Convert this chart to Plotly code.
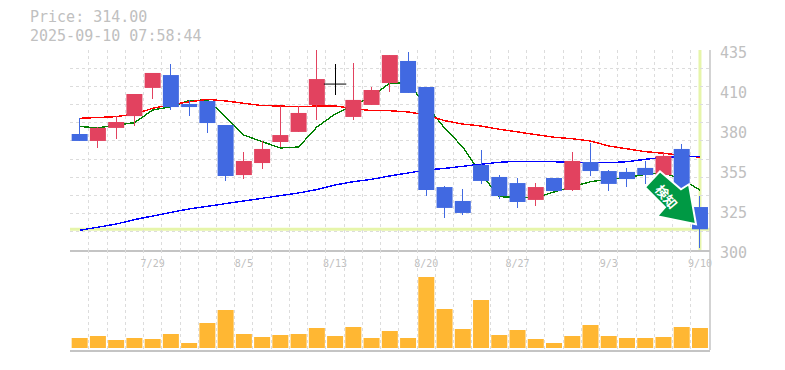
import plotly.graph_objects as go

dates = ["7/23","7/24","7/25","7/28","7/29","7/30","7/31","8/1","8/4","8/5","8/6","8/7","8/8","8/12","8/13","8/14","8/15","8/18","8/19","8/20","8/21","8/22","8/25","8/26","8/27","8/28","8/29","9/1","9/2","9/3","9/4","9/5","9/8","9/9","9/10"]
opens = [378.3,373.6,382.4,390.4,409.4,418.1,398.6,400.6,384.4,350.6,358.7,372.9,379.7,397.9,412.0,389.8,397.9,412.7,427.6,410.0,342.5,333.1,357.4,349.3,345.2,333.8,348.6,340.5,359.4,353.3,352.7,355.4,350.6,368.2,329.0]
highs = [389.1,383.0,390.4,405.3,419.5,425.6,401.3,400.6,384.4,366.2,373.6,397.2,397.2,435.0,425.6,426.2,410.0,431.6,433.7,410.0,343.2,341.2,367.5,350.6,348.6,345.2,348.6,366.2,372.2,354.0,355.4,360.1,366.2,371.5,336.4]
lows = [373.6,368.9,374.9,383.7,401.9,394.5,390.4,379.0,346.6,347.9,354.7,369.5,379.7,387.8,404.6,387.8,397.9,406.7,406.0,336.4,321.6,323.6,344.6,334.4,328.4,329.7,339.8,339.8,350.0,339.8,342.5,344.6,350.6,340.5,301.4]
closes = [373.6,382.4,386.4,405.3,419.5,396.5,396.5,385.7,350.0,360.1,368.2,377.6,392.5,415.4,412.0,401.3,408.0,431.6,406.0,340.5,328.4,325.0,346.6,336.4,332.4,342.5,339.8,360.1,353.3,344.6,347.9,350.6,363.5,340.5,314.0]
ma_short = [383.4,382.4,384.4,385.9,394.5,396.7,400.8,401.3,389.8,377.6,373.1,368.9,369.5,383.0,391.8,397.9,403.3,412.7,412.7,397.9,382.4,369.5,351.3,336.0,335.3,335.1,339.2,342.5,346.1,347.9,348.8,351.1,352.2,347.7,340.5]
ma_mid = [388.9,389.6,390.0,391.8,395.6,398.2,400.1,401.7,400.6,399.0,397.5,397.2,396.7,397.2,397.2,395.6,394.0,394.0,393.2,391.1,387.3,385.0,383.7,381.5,379.7,378.3,376.1,375.1,373.6,370.2,368.2,366.4,365.3,364.1,362.6]
ma_long = [313.3,315.5,317.5,320.5,323.2,325.4,327.7,329.5,331.0,332.9,334.9,336.2,338.5,340.8,343.9,346.1,347.7,350.0,352.2,354.0,355.1,356.7,357.9,359.2,359.9,359.9,359.4,358.9,358.9,358.9,359.6,361.2,362.6,363.0,363.0]
volumes = [10,12,8,10,9,14,5,25,38,14,11,13,14,20,12,21,10,17,10,71,39,19,48,13,18,9,5,12,23,12,10,10,11,21,20]
price_ticks = [435,408,381,354,327,300]
price_labels = ["435","410","380","355","325","300"]
label_idx = [4,9,14,19,24,29,34]
last_price = 314.0

GRID = "#dcdcdc"; TXT = "#c0c0c0"; AXIS = "#c4c4c4"; HL = "#e6f5aa"
RED = "#e2425f"; BLUE = "#4169e1"; ORANGE = "#ffb733"; GREEN = "#009944"
MONO = "'DejaVu Sans Mono', monospace"
DASH = "3px,3px"
n = len(dates); xs = list(range(n))
XR = [-0.53, 34.55]
YR = [300, 435]
step = 135 / 11
BODY = 0.877

up = [i for i in xs if closes[i] > opens[i]]
down = [i for i in xs if closes[i] < opens[i]]
flat = [i for i in xs if closes[i] == opens[i]]

fig = go.Figure()
# moving averages sit under the candles
for vals, col in [(ma_short, "#008000"), (ma_mid, "#ff0000"), (ma_long, "#0000ff")]:
    fig.add_trace(go.Scatter(x=xs, y=vals, mode="lines", line=dict(color=col, width=1.4),
                             xaxis="x", yaxis="y", showlegend=False, hoverinfo="skip"))
for ids, col in [(up, RED), (down, BLUE)]:
    fig.add_trace(go.Bar(x=ids, y=[abs(closes[i] - opens[i]) for i in ids], base=[min(closes[i], opens[i]) for i in ids],
                         width=BODY, marker=dict(color=col, line_width=0), xaxis="x3", yaxis="y3", showlegend=False))
for ids, col in [(up, RED), (down, BLUE), (flat, "black")]:
    wx, wy = [], []
    for i in ids:
        wx += [i, i, None]; wy += [lows[i], highs[i], None]
    fig.add_trace(go.Scatter(x=wx, y=wy, mode="lines", line=dict(color=col, width=1),
                             xaxis="x3", yaxis="y3", showlegend=False, hoverinfo="skip"))
fig.add_trace(go.Scatter(x=flat, y=[closes[i] for i in flat], mode="markers",
                         marker=dict(symbol="line-ew", size=16, line=dict(color="black", width=1)),
                         xaxis="x3", yaxis="y3", showlegend=False))
fig.add_trace(go.Bar(x=xs, y=volumes, marker=dict(color=ORANGE, line_width=0), width=BODY,
                     xaxis="x2", yaxis="y2", showlegend=False))

minor = dict(tickmode="linear", tick0=-0.5, dtick=1, showgrid=True, gridcolor=GRID, griddash=DASH, gridwidth=1, ticks="")
fig.update_layout(
    width=785, height=370, autosize=False, paper_bgcolor="white", plot_bgcolor="white",
    margin=dict(l=70, r=75, t=50, b=20), barmode="overlay", showlegend=False,
    font=dict(family=MONO, color=TXT),
    xaxis=dict(domain=[0, 1], range=XR, anchor="y", tickmode="array",
               tickvals=label_idx, ticktext=[dates[i] for i in label_idx], tickfont=dict(size=10, color=TXT, family=MONO),
               ticks="outside", ticklen=3, tickcolor="rgba(0,0,0,0)", showgrid=False, zeroline=False, showline=True,
               linecolor=AXIS, linewidth=2, minor=minor),
    yaxis=dict(domain=[1/3, 1], range=YR, anchor="x", side="right", tickmode="array",
               tickvals=[YR[1] - step * k for k in range(12)], showticklabels=False, ticks="",
               showgrid=True, gridcolor=GRID, griddash=DASH, zeroline=False, showline=False),
    xaxis3=dict(domain=[0, 1], range=XR, overlaying="x", anchor="y3", visible=False),
    yaxis3=dict(domain=[1/3, 1], range=YR, overlaying="y", anchor="x3", visible=False),
    xaxis2=dict(domain=[0, 1], range=XR, anchor="y2", showticklabels=False, ticks="", tickmode="array", tickvals=[],
                showgrid=False, zeroline=False, showline=True, linecolor=AXIS, linewidth=2, minor=minor),
    yaxis2=dict(domain=[0, 1/3], range=[-2, 98], anchor="x2", side="right", showticklabels=False, ticks="",
                showgrid=False, zeroline=False, showline=False),
    shapes=[
        dict(type="line", xref="x", yref="paper", x0=34, x1=34, y0=1/3, y1=1, line=dict(color=HL, width=3), layer="below"),
        dict(type="line", xref="paper", yref="y", x0=0, x1=1, y0=last_price, y1=last_price, line=dict(color=HL, width=3), layer="below"),
        dict(type="line", xref="paper", yref="paper", x0=1, x1=1, y0=0, y1=1, line=dict(color=AXIS, width=1.5), layer="above"),
        dict(type="path", xsizemode="pixel", ysizemode="pixel", xref="x", yref="y", xanchor=34, yanchor=last_price,
             path="M -4 5 L -43 13 L -35 22 L -55 42 L -40 58 L -19 40 L -11 45 Z",
             fillcolor=GREEN, line=dict(color="white", width=2), layer="above"),
    ],
    annotations=[
        dict(text="Price: 314.00", xref="paper", yref="paper", x=-40/640, y=(300+32.5)/300, xanchor="left", yanchor="middle",
             xshift=-2, showarrow=False, font=dict(size=15, color=TXT, family=MONO)),
        dict(text="2025-09-10 07:58:44", xref="paper", yref="paper", x=-40/640, y=(300+14.5)/300, xanchor="left", yanchor="middle",
             xshift=-2, showarrow=False, font=dict(size=15, color=TXT, family=MONO)),
        dict(text="<b>検知</b>", xref="x", yref="y", x=34, y=last_price, xshift=-33, yshift=33, showarrow=False,
             textangle=50, font=dict(size=13, color="white", family="'Noto Sans CJK JP'")),
    ] + [dict(text=lab, xref="paper", yref="y", x=1, y=v, xanchor="left", yanchor="middle", xshift=8, yshift=-3,
              showarrow=False, font=dict(size=15, color=TXT, family=MONO)) for v, lab in zip(price_ticks, price_labels)],
)
fig.write_html("out.html", config=dict(displayModeBar=False), post_script=(
    "document.body.style.margin='0';"
    "document.head.insertAdjacentHTML('beforeend','<style>.scatterlayer path.js-line{shape-rendering:crispEdges}</style>');"
))
